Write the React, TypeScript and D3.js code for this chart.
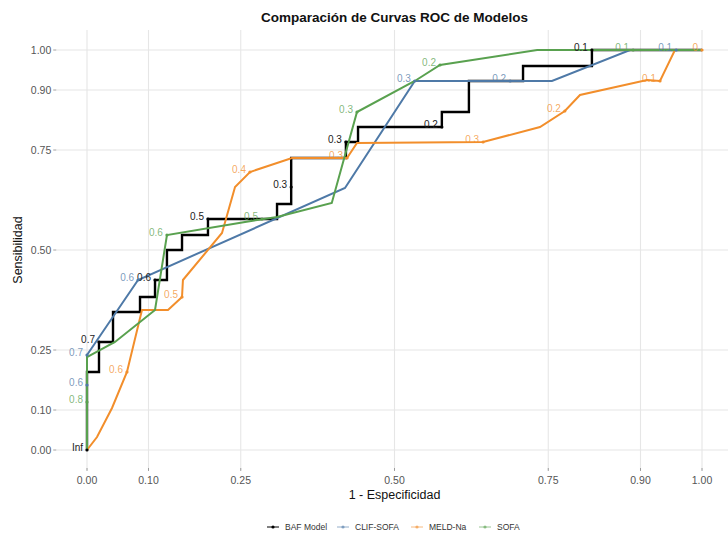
import React from "react";
import * as d3 from "d3";

// ---------- data ----------
const seriesNames = ["BAF Model", "CLIF-SOFA", "MELD-Na", "SOFA"];
const seriesColors = ["#000000", "#4E79A7", "#F28E2B", "#59A14F"];

const xTicks = [0, 0.1, 0.25, 0.5, 0.75, 0.9, 1];
const yTicks = [0, 0.1, 0.25, 0.5, 0.75, 0.9, 1];

// BAF Model (step curve vertices)
const bafFpr = [0, 0, 0.0195, 0.0195, 0.0423, 0.0423, 0.0862, 0.0862, 0.1106, 0.1106, 0.13, 0.13, 0.1545, 0.1545, 0.1967, 0.1967, 0.309, 0.309, 0.332, 0.332, 0.421, 0.421, 0.4407, 0.4407, 0.577, 0.577, 0.621, 0.621, 0.709, 0.709, 0.821, 0.821, 1];
const bafTpr = [0, 0.195, 0.195, 0.27, 0.27, 0.345, 0.345, 0.3825, 0.3825, 0.425, 0.425, 0.5, 0.5, 0.5375, 0.5375, 0.5775, 0.5775, 0.615, 0.615, 0.73, 0.73, 0.77, 0.77, 0.8075, 0.8075, 0.845, 0.845, 0.9225, 0.9225, 0.96, 0.96, 1, 1];

// CLIF-SOFA
const clifFpr = [0, 0, 0.083, 0.4195, 0.533, 0.756, 0.883, 1];
const clifTpr = [0, 0.2375, 0.425, 0.655, 0.9225, 0.9225, 1, 1];

// MELD-Na
const meldFpr = [0, 0.0163, 0.0407, 0.065, 0.0894, 0.1317, 0.1545, 0.156, 0.2195, 0.2407, 0.265, 0.3333, 0.4228, 0.439, 0.644, 0.7366, 0.777, 0.8016, 0.9106, 0.9317, 0.956, 1];
const meldTpr = [0, 0.0325, 0.105, 0.195, 0.35, 0.35, 0.3825, 0.425, 0.5425, 0.6575, 0.695, 0.73, 0.73, 0.7675, 0.77, 0.8075, 0.8475, 0.8875, 0.925, 0.9225, 1, 1];

// SOFA
const sofaFpr = [0, 0, 0.0455, 0.1106, 0.13, 0.257, 0.309, 0.398, 0.439, 0.533, 0.574, 0.732, 1];
const sofaTpr = [0, 0.2325, 0.27, 0.35, 0.5375, 0.57, 0.5825, 0.6175, 0.845, 0.9225, 0.9625, 1, 1];

// cutoff labels: fpr, tpr, text
const bafCutFpr = [0, 0.0195, 0.1106, 0.1967, 0.332, 0.421, 0.577, 0.821];
const bafCutTpr = [0, 0.27, 0.425, 0.5775, 0.6575, 0.77, 0.8075, 1];
const bafCutLab = ["Inf", "0.7", "0.6", "0.5", "0.3", "0.3", "0.2", "0.1"];

const clifCutFpr = [0, 0, 0.083, 0.533, 0.688, 0.958];
const clifCutTpr = [0.2375, 0.1625, 0.425, 0.9225, 0.9225, 1];
const clifCutLab = ["0.7", "0.6", "0.6", "0.3", "0.2", "0.1"];

const meldCutFpr = [0.065, 0.1545, 0.265, 0.4228, 0.644, 0.777, 0.9317, 1];
const meldCutTpr = [0.195, 0.3825, 0.695, 0.73, 0.77, 0.8475, 0.9225, 1];
const meldCutLab = ["0.6", "0.5", "0.4", "0.3", "0.3", "0.2", "0.1", "0"];

const sofaCutFpr = [0, 0.13, 0.2846, 0.439, 0.574, 0.888];
const sofaCutTpr = [0.12, 0.5375, 0.5775, 0.845, 0.9625, 1];
const sofaCutLab = ["0.8", "0.6", "0.5", "0.3", "0.2", "0.1"];

const curves = [
  { fpr: bafFpr, tpr: bafTpr, cf: bafCutFpr, ct: bafCutTpr, cl: bafCutLab },
  { fpr: clifFpr, tpr: clifTpr, cf: clifCutFpr, ct: clifCutTpr, cl: clifCutLab },
  { fpr: meldFpr, tpr: meldTpr, cf: meldCutFpr, ct: meldCutTpr, cl: meldCutLab },
  { fpr: sofaFpr, tpr: sofaTpr, cf: sofaCutFpr, ct: sofaCutTpr, cl: sofaCutLab },
];

const W = 728;
const H = 536;
const FONT = "'Liberation Sans', Arial, Helvetica, sans-serif";

export default function App() {
  const x = d3.scaleLinear().domain([0, 1]).range([87, 702]);
  const y = d3.scaleLinear().domain([0, 1]).range([450, 50]);
  const px0 = x(-0.05);
  const px1 = x(1.05);
  const py0 = y(1.05);
  const py1 = y(-0.05);

  const line = d3
    .line<number>()
    .x((d) => d[0])
    .y((d) => d[1]);

  const fmt = d3.format(".2f");

  const legendKeyX = [273, 343, 417, 485];
  const legendY = 527;

  return (
    <svg
      width={W}
      height={H}
      style={{ position: "absolute", left: 0, top: 0, background: "#fff" }}
      fontFamily={FONT}
    >
      <rect x={0} y={0} width={W} height={H} fill="#fff" />
      {/* grid */}
      {yTicks.map((t) => (
        <line key={"gy" + t} x1={px0} x2={px1} y1={y(t)} y2={y(t)} stroke="#e6e6e6" strokeWidth={1.1} />
      ))}
      {xTicks.map((t) => (
        <line key={"gx" + t} x1={x(t)} x2={x(t)} y1={py0} y2={py1} stroke="#e6e6e6" strokeWidth={1.1} />
      ))}
      {/* axis ticks and labels */}
      {yTicks.map((t) => (
        <g key={"ty" + t}>
          <line x1={px0 - 3} x2={px0} y1={y(t)} y2={y(t)} stroke="#8a8a8a" strokeWidth={0.8} />
          <text x={px0 - 5} y={y(t)} dy="0.35em" textAnchor="end" fontSize={10.5} fill="#555">
            {fmt(t)}
          </text>
        </g>
      ))}
      {xTicks.map((t) => (
        <g key={"tx" + t}>
          <line x1={x(t)} x2={x(t)} y1={py1 - 2} y2={py1 + 1} stroke="#8a8a8a" strokeWidth={0.8} />
          <text x={x(t)} y={py1 + 14} textAnchor="middle" fontSize={10.5} fill="#555">
            {fmt(t)}
          </text>
        </g>
      ))}
      {/* curves */}
      {curves.map((c, i) => {
        const pts = c.fpr.map((f, j) => [x(f), y(c.tpr[j])]);
        return (
          <path
            key={"c" + i}
            d={line(pts as any) || ""}
            fill="none"
            stroke={seriesColors[i]}
            strokeWidth={i === 0 ? 2.4 : 2}
            strokeLinejoin="miter"
          />
        );
      })}
      {/* cutoff points and labels */}
      {curves.map((c, i) => (
        <g key={"l" + i}>
          {c.cf.map((f, j) => (
            <circle key={"p" + j} cx={x(f)} cy={y(c.ct[j])} r={1.6} fill={seriesColors[i]} />
          ))}
          {c.cf.map((f, j) => (
            <text
              key={"t" + j}
              x={x(f) - 4}
              y={y(c.ct[j]) + 1}
              textAnchor="end"
              fontSize={10}
              fill={i === 0 ? "#222" : seriesColors[i]}
              fillOpacity={i === 0 ? 1 : 0.75}
            >
              {c.cl[j]}
            </text>
          ))}
        </g>
      ))}
      {/* titles */}
      <text x={(px0 + px1) / 2} y={22} textAnchor="middle" fontSize={13.5} fontWeight="bold" fill="#111">
        Comparación de Curvas ROC de Modelos
      </text>
      <text x={(px0 + px1) / 2} y={499} textAnchor="middle" fontSize={12.5} fill="#111">
        1 - Especificidad
      </text>
      <text
        transform={`translate(22, ${(py0 + py1) / 2}) rotate(-90)`}
        textAnchor="middle"
        fontSize={12.5}
        fill="#111"
      >
        Sensibilidad
      </text>
      {/* legend */}
      {seriesNames.map((n, i) => (
        <g key={"lg" + i}>
          <line
            x1={legendKeyX[i] - 6}
            x2={legendKeyX[i] + 6}
            y1={legendY}
            y2={legendY}
            stroke={seriesColors[i]}
            strokeWidth={1}
            strokeOpacity={i === 0 ? 1 : 0.6}
          />
          <circle cx={legendKeyX[i]} cy={legendY} r={1.6} fill={seriesColors[i]} fillOpacity={i === 0 ? 1 : 0.6} />
          <text x={legendKeyX[i] + 12} y={legendY} dy="0.35em" fontSize={8.5} fill="#333">
            {n}
          </text>
        </g>
      ))}
    </svg>
  );
}
